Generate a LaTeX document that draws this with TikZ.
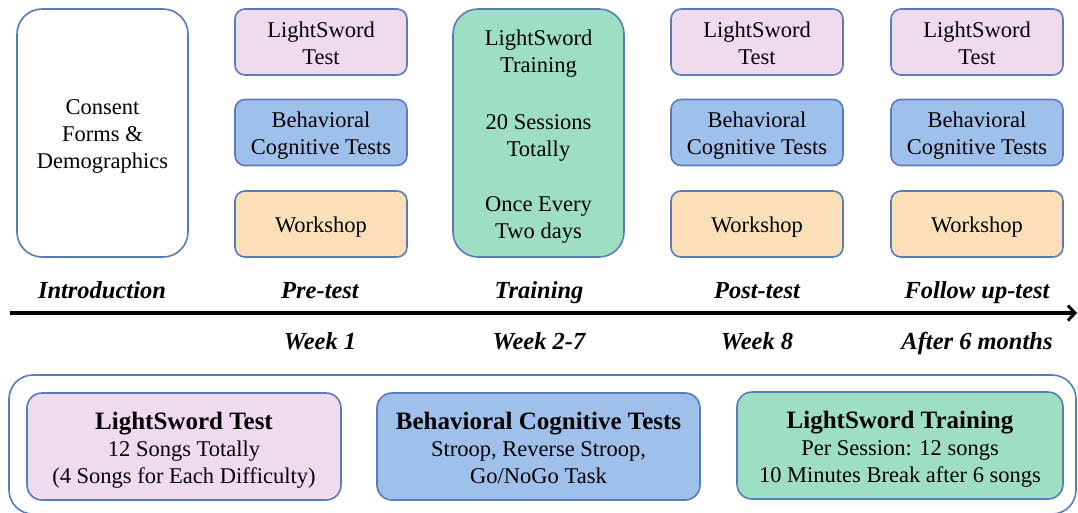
\documentclass[tikz,border=0pt]{standalone}
\usepackage{fontspec}
\setmainfont{Liberation Serif}
\usetikzlibrary{arrows.meta}
\definecolor{edge}{RGB}{88,124,182}
\definecolor{pinkfill}{RGB}{240,218,238}
\definecolor{bluefill}{RGB}{160,192,236}
\definecolor{orangefill}{RGB}{253,224,185}
\definecolor{greenfill}{RGB}{158,223,195}
% fixed room above the first baseline of a card
\newcommand\cardtop{\rule{0pt}{20pt}}
\newcommand\keytop{\rule{0pt}{22pt}}
\begin{document}
\begin{tikzpicture}[x=1pt,y=-1pt,
  card/.style={draw=edge, line width=1.6pt, rounded corners=10pt, align=center,
    inner sep=0pt, text=black, font=\fontsize{22.5}{27}\selectfont, text depth=3pt},
  small/.style={card, minimum width=172pt, minimum height=66pt},
  tall/.style={card, rounded corners=25pt, minimum width=171pt, minimum height=248pt},
  wide/.style={card, rounded corners=15pt, minimum height=107pt},
  lstest/.style={fill=pinkfill},
  bctest/.style={fill=bluefill},
  shop/.style={fill=orangefill},
  train/.style={fill=greenfill},
  phase/.style={anchor=base, font=\fontsize{24.5}{28}\selectfont\bfseries\itshape}
]
\useasboundingbox (0,0) rectangle (1078,512);

% Introduction column
\node[tall, fill=white] (consent) at (102.5,133) {\cardtop Consent\\Forms \&\\Demographics};

% Pre-test column
\node[small, lstest] (preLS) at (321,42) {\cardtop LightSword\\Test};
\node[small, bctest] (preBC) at (321,132.5) {\cardtop Behavioral\\Cognitive Tests};
\node[small, shop]   (preWS) at (321,224) {\cardtop Workshop};

% Training column
\node[tall, train] (training) at (538.5,133)
  {\cardtop LightSword\\Training\\[30pt]20 Sessions\\Totally\\[28pt]Once Every\\Two days};

% Post-test column
\node[small, lstest] (postLS) at (757,42) {\cardtop LightSword\\Test};
\node[small, bctest] (postBC) at (757,132.5) {\cardtop Behavioral\\Cognitive Tests};
\node[small, shop]   (postWS) at (757,224) {\cardtop Workshop};

% Follow-up column
\node[small, lstest] (followLS) at (977,42) {\cardtop LightSword\\Test};
\node[small, bctest] (followBC) at (977,132.5) {\cardtop Behavioral\\Cognitive Tests};
\node[small, shop]   (followWS) at (977,224) {\cardtop Workshop};

% Time axis
\coordinate (axisStart) at (10,313);
\coordinate (axisEnd) at (1077,313);
\draw[line width=4pt, -{Straight Barb[length=7pt,width=15pt,line width=3pt]}]
  (axisStart) -- (axisEnd);

\node[phase] (lblIntro)  at (102,298.5) {Introduction};
\node[phase] (lblPre)    at (320,298.5) {Pre-test};
\node[phase] (lblTrain)  at (539,298.5) {Training};
\node[phase] (lblPost)   at (757,298.5) {Post-test};
\node[phase] (lblFollow) at (977,298.5) {Follow up-test};

\node[phase] (wkPre)    at (320,349) {Week 1};
\node[phase] (wkTrain)  at (539,349) {Week 2-7};
\node[phase] (wkPost)   at (757,349) {Week 8};
\node[phase] (wkFollow) at (977,349) {After 6 months};

% Legend panel
\node[draw=edge, line width=1.6pt, rounded corners=24pt, minimum width=1067pt,
  minimum height=139pt, inner sep=0pt] (panel) at (542.5,444.5) {};

\node[wide, lstest, minimum width=314pt] (keyLS) at (184,446.5)
  {\keytop{\fontsize{25}{27}\selectfont\bfseries LightSword Test}\\12 Songs Totally\\(4 Songs for Each Difficulty)};
\node[wide, bctest, minimum width=323pt] (keyBC) at (538.5,446.5)
  {\keytop{\fontsize{25}{27}\selectfont\bfseries Behavioral Cognitive Tests}\\Stroop, Reverse Stroop,\\Go/NoGo Task};
\node[wide, train, minimum width=326pt] (keyTR) at (900,445.5)
  {\keytop{\fontsize{25}{27}\selectfont\bfseries LightSword Training}\\Per Session: 12 songs\\10 Minutes Break after 6 songs};
\end{tikzpicture}
\end{document}
